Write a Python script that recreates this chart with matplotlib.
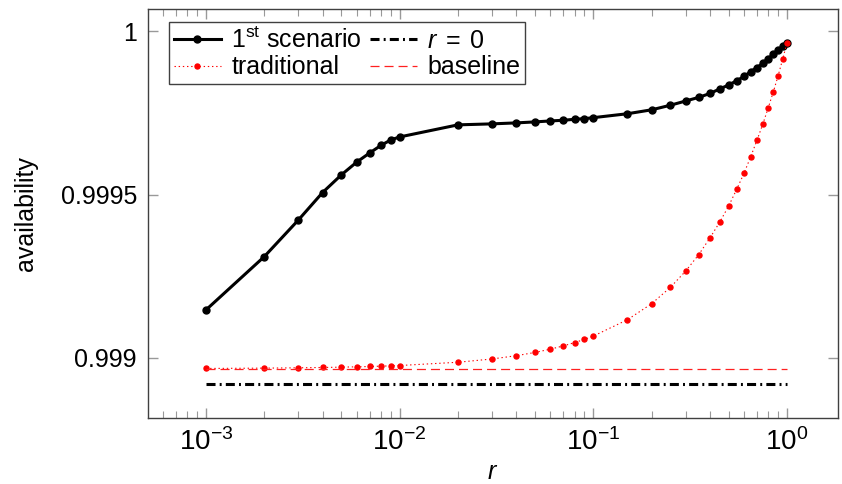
import numpy as np
import matplotlib
matplotlib.use("Agg")
import matplotlib.pyplot as plt

plt.rcParams['font.family'] = ['Liberation Sans', 'DejaVu Sans']
plt.rcParams['mathtext.fontset'] = 'custom'
plt.rcParams['mathtext.rm'] = 'Liberation Sans'
plt.rcParams['mathtext.it'] = 'Liberation Sans:italic'
plt.rcParams['mathtext.bf'] = 'Liberation Sans:bold'
plt.rcParams['font.size'] = 18
plt.rcParams['lines.scale_dashes'] = False

# r values (same grid for both curves)
r = [0.001, 0.002, 0.003, 0.004, 0.005, 0.006, 0.007, 0.008, 0.009, 0.01,
     0.02, 0.03, 0.04, 0.05, 0.06, 0.07, 0.08, 0.09, 0.1,
     0.15, 0.2, 0.25, 0.3, 0.35, 0.4, 0.45, 0.5, 0.55, 0.6, 0.65,
     0.7, 0.75, 0.8, 0.85, 0.9, 0.95, 1.0]

first_scenario = [0.999147, 0.999310, 0.999422, 0.999506, 0.999560, 0.999599,
                  0.999627, 0.999650, 0.999667, 0.999676,
                  0.999713, 0.999716, 0.999719, 0.999722, 0.999725, 0.999727,
                  0.999730, 0.999732, 0.999735,
                  0.999747, 0.999759, 0.999773, 0.999786, 0.999797, 0.999809,
                  0.999823, 0.999835, 0.999848, 0.999861, 0.999876,
                  0.999888, 0.999901, 0.999915, 0.999929, 0.999941, 0.999953,
                  0.999964]

traditional = [0.998968, 0.998969, 0.998970, 0.998971, 0.998972, 0.998973,
               0.998974, 0.998975, 0.998976, 0.998977,
               0.998987, 0.998997, 0.999007, 0.999017, 0.999027, 0.999037,
               0.999047, 0.999057, 0.999067,
               0.999117, 0.999166, 0.999216, 0.999266, 0.999316, 0.999367,
               0.999416, 0.999465, 0.999516, 0.999565, 0.999616,
               0.999666, 0.999715, 0.999765, 0.999814, 0.999863, 0.999914,
               0.999964]

r_flat = [0.001, 1.0]
r_zero = [0.998920, 0.998920]
baseline = [0.998967, 0.998967]

fig = plt.figure(figsize=(8.42, 4.84), dpi=100)
ax = fig.add_axes([148/842, 1-418/484, 690/842, 409/484])

l1, = ax.plot(r, first_scenario, 'k-', lw=2.2, marker='o', markersize=5,
              label=r'1$^{\mathrm{st}}$ scenario')
l2, = ax.plot(r_flat, r_zero, color='k', lw=2.2, dashes=(6.5, 3, 1.4, 3),
              label=r'$r \;=\; 0$')
l3, = ax.plot(r, traditional, color='red', lw=0.8, linestyle=(0, (1, 2)),
              marker='o', markersize=3.6, label='traditional')
l4, = ax.plot(r_flat, baseline, color='#ff2020', lw=0.9, dashes=(6.5, 3.6),
              label='baseline')

ax.set_xscale('log')
ax.set_xlim(5.02e-4, 1.834)
ax.set_ylim(0.9988165, 1.0000673)
ax.set_yticks([0.999, 0.9995, 1.0])
ax.set_yticklabels(['0.999', '0.9995', '1'])
ax.set_xticks([1e-3, 1e-2, 1e-1, 1e0])

ax.tick_params(which='both', direction='in', top=True, right=True, color='#999999')
ax.tick_params(which='major', length=7.5, width=1, pad=8)
ax.tick_params(axis='x', which='major', labelsize=20, pad=7)
ax.tick_params(which='minor', length=4.7, width=0.8)
ax.tick_params(axis='y', which='minor', left=False, right=False)
for s in ax.spines.values():
    s.set_color('#404040')
    s.set_linewidth(1)

ax.set_xlabel(r'$r$', labelpad=3)
ax.set_ylabel('availability', labelpad=16)

leg = ax.legend([l1, l3, l2, l4], [l1.get_label(), l3.get_label(), l2.get_label(), l4.get_label()],
                ncol=2, loc='upper left', bbox_to_anchor=(0.03, 0.968), borderaxespad=0,
                fancybox=False, edgecolor='#404040', framealpha=1,
                handlelength=1.9, handletextpad=0.4, columnspacing=0.3,
                labelspacing=0.1, borderpad=0.2, fontsize=18)
leg.get_frame().set_linewidth(1)

fig.savefig('out.png', dpi=100)
